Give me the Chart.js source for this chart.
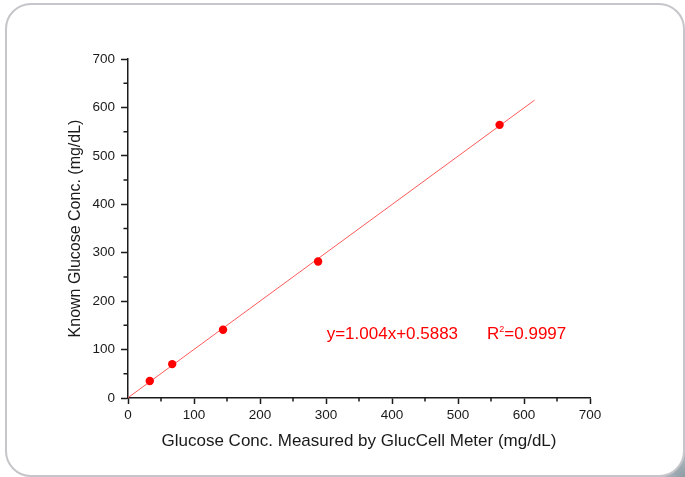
<!DOCTYPE html>
<html>
<head>
<meta charset="utf-8">
<script src="https://cdn.jsdelivr.net/npm/chart.js@4"></script>
<style>
  html, body { margin: 0; padding: 0; }
  body {
    width: 685px; height: 477px; position: relative; overflow: hidden;
    background: radial-gradient(circle at 100% 100%, #8e9ba4 0px, #bcc5cb 30px, #ffffff 150px);
  }
  #panel {
    position: absolute; left: 5px; top: 3px; width: 676px; height: 470px;
    border: 2.5px solid #c6c6ca; border-radius: 26px; background: #fff;
  }
  #myChart { position: absolute; left: 0; top: 0; }
</style>
</head>
<body>
<div id="panel"></div>
<canvas id="myChart" width="685" height="477"></canvas>
<script>
// measured by meter (x) vs known concentration (y), mg/dL
const measured = [33, 67, 144, 288, 563];
const known = [35, 70, 141, 282, 564];

// fitted line end points
const fitX = [0, 616];
const fitY = [0.6, 615];

const xTicks = [0, 100, 200, 300, 400, 500, 600, 700];
const yTicks = [0, 100, 200, 300, 400, 500, 600, 700];
const minorTicks = [50, 150, 250, 350, 450, 550, 650];

const fitLabel = 'y=1.004x+0.5883';
const r2Label = '=0.9997';

const FONT = '"Liberation Sans", Arial, Helvetica, sans-serif';
const INK = '#1a1a1a';

const extras = {
  id: 'extras',
  afterDraw(chart) {
    const { ctx, chartArea } = chart;
    const x = chart.scales.x, y = chart.scales.y;
    ctx.save();
    // minor ticks
    ctx.strokeStyle = INK;
    ctx.lineWidth = 1.5;
    ctx.beginPath();
    minorTicks.forEach(v => {
      const px = x.getPixelForValue(v);
      ctx.moveTo(px, chartArea.bottom);
      ctx.lineTo(px, chartArea.bottom + 3.5);
      const py = y.getPixelForValue(v);
      ctx.moveTo(chartArea.left, py);
      ctx.lineTo(chartArea.left - 4.5, py);
    });
    ctx.stroke();

    // fit equation
    ctx.fillStyle = '#ff0000';
    ctx.textBaseline = 'alphabetic';
    ctx.textAlign = 'left';
    ctx.font = '17px ' + FONT;
    const by = y.getPixelForValue(121);
    ctx.fillText(fitLabel, x.getPixelForValue(301), by);
    const rx = x.getPixelForValue(544);
    ctx.fillText('R', rx, by);
    const rw = ctx.measureText('R').width;
    ctx.font = '9px ' + FONT;
    ctx.fillText('2', rx + rw, by - 7);
    const sw = ctx.measureText('2').width;
    ctx.font = '17px ' + FONT;
    ctx.fillText(r2Label, rx + rw + sw, by);
    ctx.restore();
  }
};

new Chart(document.getElementById('myChart').getContext('2d'), {
  type: 'scatter',
  data: {
    datasets: [
      {
        label: 'Samples',
        data: measured.map((v, i) => ({ x: v, y: known[i] })),
        backgroundColor: '#ff0000',
        borderColor: '#ff0000',
        borderWidth: 0,
        pointRadius: 4.2,
        showLine: false
      },
      {
        label: 'Fit',
        data: fitX.map((v, i) => ({ x: v, y: fitY[i] })),
        borderColor: '#ff5a5a',
        borderWidth: 1,
        pointRadius: 0,
        showLine: true
      }
    ]
  },
  options: {
    responsive: false,
    animation: false,
    devicePixelRatio: 1,
    layout: { padding: { left: 0, top: 59, right: 95, bottom: 0 } },
    plugins: { legend: { display: false }, tooltip: { enabled: false } },
    scales: {
      x: {
        type: 'linear',
        min: 0, max: 700,
        afterFit: s => { s.height = 79; },
        afterBuildTicks: s => { s.ticks = xTicks.map(v => ({ value: v })); },
        ticks: { color: INK, padding: 3, font: { family: FONT, size: 13.5 } },
        grid: { drawOnChartArea: false, tickLength: 6, tickWidth: 1.5, tickColor: INK },
        border: { color: INK, width: 1.5 },
        title: {
          display: true,
          text: 'Glucose Conc. Measured by GlucCell Meter (mg/dL)',
          color: INK,
          font: { family: FONT, size: 17 },
          padding: { top: 0, bottom: 25 }
        }
      },
      y: {
        type: 'linear',
        min: 0, max: 700,
        afterFit: s => { s.width = 128; },
        afterBuildTicks: s => { s.ticks = yTicks.map(v => ({ value: v })); },
        ticks: { color: INK, padding: 6, font: { family: FONT, size: 13.5 } },
        grid: { drawOnChartArea: false, tickLength: 7, tickWidth: 1.5, tickColor: INK },
        border: { color: INK, width: 1.5 },
        title: {
          display: true,
          text: 'Known Glucose Conc. (mg/dL)',
          color: INK,
          font: { family: FONT, size: 16 },
          padding: { top: 66, bottom: 0 }
        }
      }
    }
  },
  plugins: [extras]
});
</script>
</body>
</html>
